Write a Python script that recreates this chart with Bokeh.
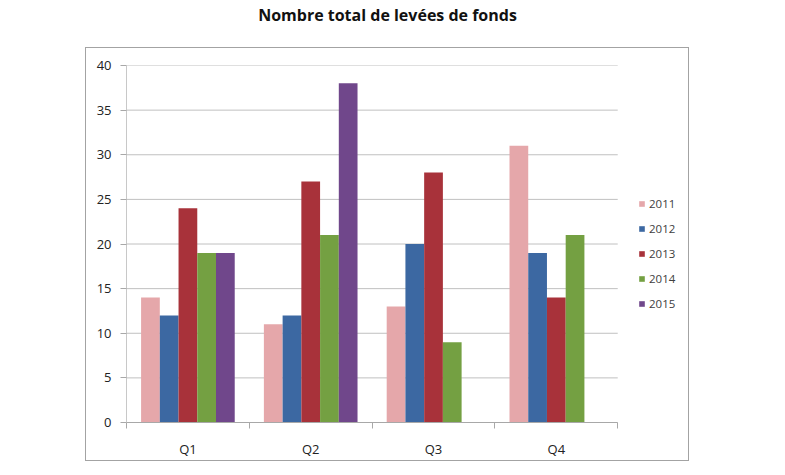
import numpy as np
from bokeh.plotting import figure
from bokeh.layouts import column
from bokeh.models import (Range1d, FixedTicker, Legend, LegendItem,
                          ColumnDataSource, Div)
from bokeh.transform import dodge
from bokeh.embed import file_html
from bokeh.resources import INLINE

quarters = ["Q1", "Q2", "Q3", "Q4"]
quarter_pos = [0.5, 1.5, 2.5, 3.5]
quarter_edges = [0, 1, 2, 3, 4]
years = ["2011", "2012", "2013", "2014", "2015"]
v2011 = [14, 11, 13, 31]
v2012 = [12, 12, 20, 19]
v2013 = [24, 27, 28, 14]
v2014 = [19, 21, 9, 21]
v2015 = [19, 38, np.nan, np.nan]
y_ticks = [0, 5, 10, 15, 20, 25, 30, 35, 40]
colors = ["#E5A7AA", "#3C68A2", "#A8323A", "#74A042", "#70478B"]
series = [v2011, v2012, v2013, v2014, v2015]
title_text = "Nombre total de levées de fonds"

FONT = "Open Sans"
TXT = "#404040"

# frame spans the chart area plus the legend column on the right
p = figure(width=602, height=412, output_backend="svg", toolbar_location=None,
           x_range=Range1d(0, 4.56), y_range=Range1d(0, 40),
           min_border_left=40, min_border_right=2,
           min_border_top=17, min_border_bottom=38,
           margin=(0, 0, 0, 86),
           styles={"outline": "1.5px solid #a3a3a3", "outline-offset": "0px"})
p.outline_line_color = None
p.background_fill_color = "white"
p.border_fill_color = "white"

# horizontal gridlines limited to the category span
p.segment(x0=quarter_edges[0], x1=quarter_edges[-1], y0=y_ticks, y1=y_ticks,
          line_color="#c0c0c0", line_width=1)

src = ColumnDataSource(dict(x=quarter_pos, **{"y" + y: s for y, s in zip(years, series)}))
bw = 0.1525
items = []
for i, (yr, col) in enumerate(zip(years, colors)):
    r = p.vbar(x=dodge("x", (i - 2) * bw, range=p.x_range), top="y" + yr, bottom=0,
               width=bw, source=src, fill_color=col, line_color=None)
    items.append(LegendItem(label=yr, renderers=[r]))

# axes
xa = p.xaxis[0]
xa.bounds = (quarter_edges[0], quarter_edges[-1])
xa.ticker = FixedTicker(ticks=quarter_pos, minor_ticks=quarter_edges)
xa.major_label_overrides = {q: lab for q, lab in zip(quarter_pos, quarters)}
xa.major_tick_out = 0
xa.major_tick_in = 0
xa.minor_tick_out = 6
xa.minor_tick_in = 0
xa.minor_tick_line_color = "#a8a8a8"
xa.axis_line_color = "#a8a8a8"
xa.major_label_standoff = 11
xa.major_label_text_font = FONT
xa.major_label_text_font_size = "13px"
xa.major_label_text_color = "#222222"

ya = p.yaxis[0]
ya.ticker = FixedTicker(ticks=y_ticks)
ya.major_tick_out = 6
ya.major_tick_in = 0
ya.minor_tick_line_color = None
ya.major_tick_line_color = "#a8a8a8"
ya.axis_line_color = "#c8c8c8"
ya.major_label_standoff = 9
ya.major_label_text_font = FONT
ya.major_label_text_font_size = "13px"
ya.major_label_text_color = "#222222"

p.xgrid.grid_line_color = None
p.ygrid.grid_line_color = None

legend = Legend(items=items, location=(512, 111), orientation="vertical",
                glyph_width=7, glyph_height=7, label_height=15, spacing=10,
                label_standoff=4, padding=0, margin=0,
                border_line_color=None, background_fill_alpha=0,
                label_text_font=FONT, label_text_font_size="11.5px",
                label_text_color=TXT)
p.add_layout(legend, "center")

title = Div(text=title_text, width=775, height=48, margin=0,
            styles={"font-family": "Open Sans", "font-weight": "bold",
                    "font-size": "16px", "text-align": "center",
                    "color": "#111111", "padding-top": "4px",
                    "box-sizing": "border-box"})

layout = column(title, p, spacing=0)
open("out.html", "w").write(file_html(layout, INLINE))
